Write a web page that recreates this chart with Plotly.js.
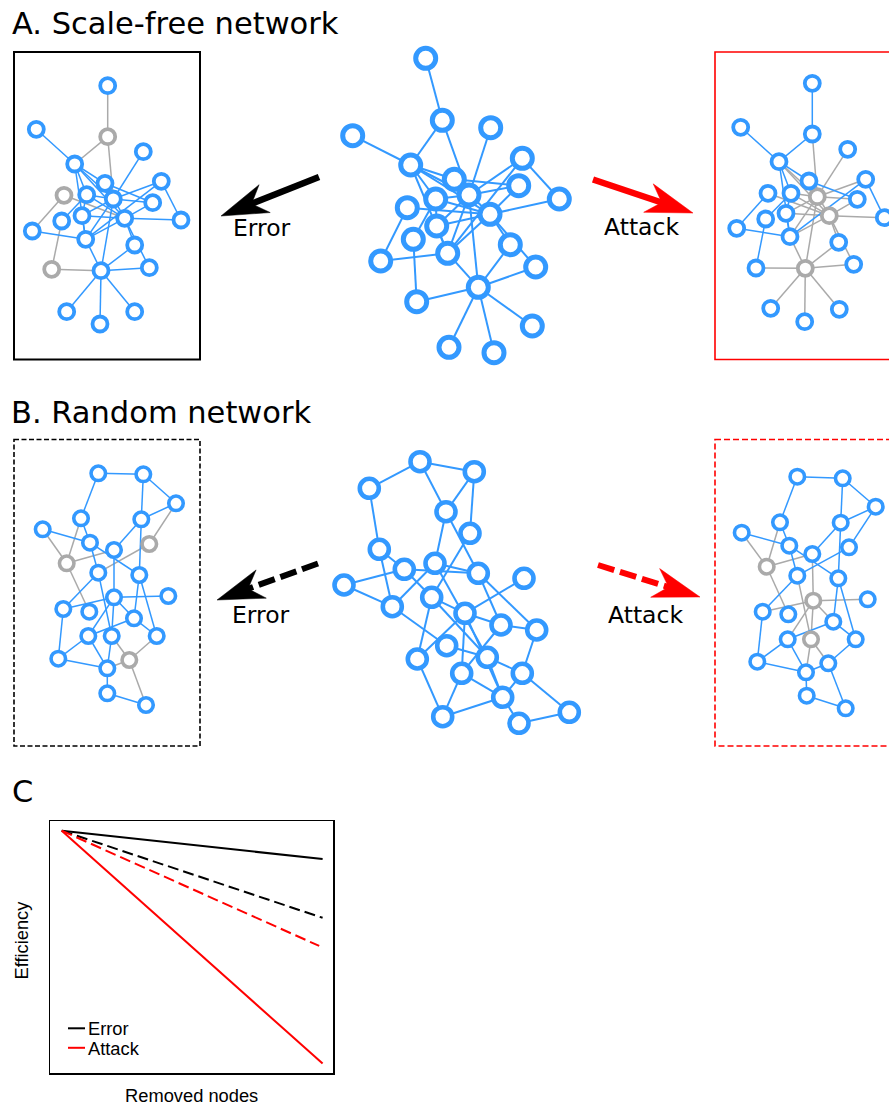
<!DOCTYPE html>
<html>
<head>
<meta charset="utf-8">
<script src="https://cdn.plot.ly/plotly-3.0.1.min.js"></script>
<style>
  html, body { margin: 0; padding: 0; background: #ffffff; }
  #fig { width: 889px; height: 1106px; }
</style>
</head>
<body>
<div id="fig"></div>
<script>
// ---------- Scale-free network (24 nodes, numbered from 1) ----------
const sfCenterX = [425.7, 442.3, 490.7, 352.7, 410.7, 522.3, 454.3, 518.7, 469.0, 435.7, 407.3, 559.3,
                   490.0, 436.7, 413.3, 510.3, 447.7, 380.7, 535.7, 478.3, 416.7, 532.3, 449.0, 494.0];
const sfCenterY = [58.3, 120.3, 127.7, 135.7, 165.0, 158.3, 179.3, 185.7, 195.0, 199.0, 207.7, 199.0,
                   214.3, 226.0, 239.3, 244.7, 253.3, 261.0, 267.0, 287.3, 301.7, 326.0, 347.3, 352.7];
const sfErrorX  = [107.7, 107.7, 143.3, 36.3, 74.7, 161.3, 105.0, 152.7, 113.3, 86.7, 64.0, 181.0,
                   124.7, 82.0, 61.7, 134.7, 85.7, 32.3, 149.3, 101.0, 51.7, 134.7, 66.7, 100.0];
const sfErrorY  = [85.7, 136.7, 151.7, 129.3, 164.0, 181.3, 183.3, 202.7, 199.0, 194.7, 195.3, 220.0,
                   218.3, 215.7, 221.0, 245.0, 239.3, 231.0, 267.7, 270.7, 269.3, 311.7, 311.7, 324.0];
const sfAttackX = [812.3, 812.3, 847.7, 740.7, 779.0, 865.7, 809.0, 857.3, 817.3, 791.0, 768.0, 884.3,
                   829.3, 786.0, 765.7, 838.7, 790.0, 736.7, 853.7, 805.3, 756.0, 839.3, 770.7, 804.7];
const sfAttackY = [83.3, 134.0, 149.3, 127.3, 161.7, 179.3, 181.0, 199.3, 196.7, 193.3, 193.3, 217.7,
                   215.7, 213.3, 219.0, 242.3, 236.7, 228.3, 264.3, 268.3, 268.0, 309.3, 308.3, 321.7];
const sfEdges = [[1,2],[2,5],[2,9],[4,5],[3,9],[5,7],[5,9],[5,10],[5,13],[5,17],[6,12],[6,9],[6,17],
                 [7,8],[7,9],[7,13],[8,9],[8,13],[9,10],[9,14],[9,17],[9,20],[10,13],[10,14],[11,18],
                 [11,13],[12,13],[13,14],[13,16],[13,19],[13,17],[14,17],[15,10],[15,21],[18,17],
                 [17,20],[21,20],[20,16],[20,19],[20,22],[20,23],[20,24]];
const sfErrorRemoved  = [2, 11, 21];
const sfAttackRemoved = [9, 13, 20];

// ---------- Random network (25 nodes, numbered from 1) ----------
const rnCenterX = [420.0, 474.3, 369.3, 446.0, 470.0, 379.3, 435.0, 404.3, 478.3, 524.0, 344.0, 431.7, 392.3,
                   465.0, 501.0, 536.7, 446.7, 417.3, 487.3, 461.7, 522.3, 502.7, 442.7, 519.0, 569.3];
const rnCenterY = [461.7, 471.7, 488.3, 511.7, 533.3, 549.3, 563.3, 569.3, 573.3, 578.3, 585.0, 597.3, 606.7,
                   613.3, 625.0, 630.0, 645.7, 659.0, 657.3, 673.3, 673.3, 697.3, 716.7, 723.3, 712.3];
const rnCenterEdges = [[1,3],[1,2],[1,4],[2,4],[2,5],[3,6],[4,7],[4,9],[5,12],[6,8],[6,13],[7,13],[7,9],
                       [7,19],[8,11],[8,9],[8,12],[9,15],[9,16],[10,14],[11,13],[12,14],[12,18],[12,19],
                       [13,17],[14,15],[14,20],[14,18],[14,22],[15,16],[15,20],[16,21],[17,19],[18,23],
                       [19,21],[19,22],[20,22],[20,23],[21,22],[21,25],[22,23],[22,24],[24,25]];
const rnErrorX  = [98.3, 143.3, 176.0, 81.0, 141.3, 42.7, 90.0, 149.3, 114.0, 66.7, 98.3, 139.3, 114.0,
                   168.3, 63.3, 89.3, 134.0, 88.3, 111.7, 156.7, 58.3, 129.3, 107.3, 107.3, 146.0];
const rnErrorY  = [473.3, 474.3, 503.3, 518.3, 519.3, 529.3, 542.7, 544.0, 550.0, 563.3, 572.7, 575.0, 597.3,
                   596.0, 609.0, 611.7, 618.3, 636.0, 636.0, 636.0, 658.7, 660.0, 668.3, 693.3, 705.0];
const rnAttackX = [797.3, 842.7, 875.7, 780.0, 840.7, 741.7, 789.3, 849.0, 812.3, 766.7, 797.3, 838.3, 813.3,
                   867.7, 762.7, 788.3, 833.3, 787.7, 811.0, 855.7, 757.3, 828.3, 806.0, 806.7, 845.7];
const rnAttackY = [476.7, 478.3, 506.7, 522.3, 522.7, 532.7, 545.7, 547.3, 554.0, 566.7, 575.7, 578.3, 600.7,
                   599.3, 611.7, 614.3, 621.7, 639.3, 639.3, 639.3, 661.7, 663.3, 672.3, 695.7, 708.3];
const rnSmallEdges = [[1,2],[1,4],[2,3],[2,5],[3,5],[3,8],[4,7],[4,10],[5,9],[5,12],[6,7],[6,10],[7,11],
                      [7,12],[8,11],[9,13],[10,9],[10,16],[11,15],[11,19],[12,17],[12,20],[13,14],[13,15],
                      [13,17],[13,19],[13,18],[15,21],[17,20],[17,18],[18,21],[18,23],[19,23],[19,22],
                      [20,22],[21,23],[22,23],[22,25],[23,24],[24,25]];
const rnErrorRemoved  = [8, 10, 22];
const rnAttackRemoved = [10, 13, 19];

// ---------- C: efficiency against removed nodes ----------
const removedNodes       = [0, 1];
const removedNodesRndAtk = [0, 0.987];
const effScaleFreeError  = [1, 0.883];
const effScaleFreeAttack = [1, 0.04];
const effRandomError     = [1, 0.641];
const effRandomAttack    = [1, 0.525];

const BLUE = '#3399ff';
const GRAY = '#aaaaaa';

// Builds edge and node traces for one drawing of a network; removed nodes and their links are greyed.
function networkTraces(xs, ys, edges, removed, style) {
  const off = i => removed.indexOf(i + 1) !== -1;
  const live = { x: [], y: [] }, dead = { x: [], y: [] };
  edges.forEach(([a, b]) => {
    const i = a - 1, j = b - 1;
    const t = (off(i) || off(j)) ? dead : live;
    t.x.push(xs[i], xs[j], null);
    t.y.push(ys[i], ys[j], null);
  });
  const liveN = { x: [], y: [] }, deadN = { x: [], y: [] };
  xs.forEach((x, i) => {
    const t = off(i) ? deadN : liveN;
    t.x.push(x); t.y.push(ys[i]);
  });
  const edgeTrace = (d, color) => ({
    type: 'scatter', mode: 'lines', x: d.x, y: d.y, xaxis: 'x', yaxis: 'y',
    line: { color: color, width: style.edge }, hoverinfo: 'skip', connectgaps: false
  });
  const nodeTrace = (d, color) => ({
    type: 'scatter', mode: 'markers', x: d.x, y: d.y, xaxis: 'x', yaxis: 'y',
    marker: { symbol: 'circle', size: style.size, color: '#ffffff', line: { color: color, width: style.ring } },
    hoverinfo: 'skip'
  });
  return [edgeTrace(dead, GRAY), edgeTrace(live, BLUE), nodeTrace(deadN, GRAY), nodeTrace(liveN, BLUE)];
}

const bigSF   = { size: 20, ring: 5, edge: 2 };
const bigRN   = { size: 19, ring: 4.6, edge: 2 };
const smallSF = { size: 15, ring: 3.8, edge: 1.5 };
const smallRN = { size: 14.5, ring: 3.6, edge: 1.5 };

let traces = [];
traces = traces.concat(networkTraces(sfCenterX, sfCenterY, sfEdges, [], bigSF));
traces = traces.concat(networkTraces(sfErrorX, sfErrorY, sfEdges, sfErrorRemoved, smallSF));
traces = traces.concat(networkTraces(sfAttackX, sfAttackY, sfEdges, sfAttackRemoved, smallSF));
traces = traces.concat(networkTraces(rnCenterX, rnCenterY, rnCenterEdges, [], bigRN));
traces = traces.concat(networkTraces(rnErrorX, rnErrorY, rnSmallEdges, rnErrorRemoved, smallRN));
traces = traces.concat(networkTraces(rnAttackX, rnAttackY, rnSmallEdges, rnAttackRemoved, smallRN));

const effLine = (x, y, color, dash, name) => ({
  type: 'scatter', mode: 'lines', x: x, y: y, xaxis: 'x2', yaxis: 'y2', name: name,
  line: { color: color, width: 2, dash: dash }, hoverinfo: 'skip'
});
traces.push(effLine(removedNodes, effScaleFreeError, '#000000', 'solid', 'Error'));
traces.push(effLine(removedNodes, effRandomError, '#000000', '11px,5px', 'Error (random)'));
traces.push(effLine(removedNodesRndAtk, effRandomAttack, '#ff0000', '11px,5px', 'Attack (random)'));
traces.push(effLine(removedNodes, effScaleFreeAttack, '#ff0000', 'solid', 'Attack'));

// Arrow from start to tip: a shaft and a swept-back (stealth) head.
function arrowShapes(start, tip, color, width, dash) {
  const head = 47, half = 15, notch = 33;
  const dx = tip[0] - start[0], dy = tip[1] - start[1];
  const len = Math.hypot(dx, dy);
  const ux = dx / len, uy = dy / len, px = -uy, py = ux;
  const bx = tip[0] - head * ux, by = tip[1] - head * uy;
  const nx = tip[0] - notch * ux, ny = tip[1] - notch * uy;
  const sx = tip[0] - (notch - 3) * ux, sy = tip[1] - (notch - 3) * uy;
  return [
    { type: 'line', xref: 'x', yref: 'y', x0: start[0], y0: start[1], x1: sx, y1: sy,
      line: { color: color, width: width, dash: dash } },
    { type: 'path', xref: 'x', yref: 'y',
      path: `M${tip[0]},${tip[1]} L${bx + half * px},${by + half * py} L${nx},${ny} ` +
            `L${bx - half * px},${by - half * py} Z`,
      fillcolor: color, line: { color: color, width: 0.5 } }
  ];
}

const boxLine = (x0, y0, x1, y1, color, width, dash) => ({
  type: 'rect', xref: 'x', yref: 'y', x0: x0, y0: y0, x1: x1, y1: y1,
  line: { color: color, width: width, dash: dash }, fillcolor: 'rgba(0,0,0,0)'
});

let shapes = [
  boxLine(14, 52, 200, 359.5, '#000000', 2, 'solid'),
  boxLine(715, 52, 895, 359.5, '#ff0000', 1.6, 'solid'),
  boxLine(14, 439.5, 200, 746, '#000000', 1.6, '5px,2.5px'),
  boxLine(715, 439.5, 895, 746, '#ff0000', 1.6, '6px,3px'),
  { type: 'line', xref: 'x', yref: 'y', x0: 68, y0: 1028.3, x1: 85, y1: 1028.3, line: { color: '#000000', width: 2 } },
  { type: 'line', xref: 'x', yref: 'y', x0: 68, y0: 1047.8, x1: 85, y1: 1047.8, line: { color: '#ff0000', width: 2 } }
];
shapes = shapes.concat(arrowShapes([319, 177], [221, 216], '#000000', 6.5, 'solid'));
shapes = shapes.concat(arrowShapes([593, 179.5], [693, 213], '#ff0000', 6.5, 'solid'));
shapes = shapes.concat(arrowShapes([318, 563.5], [217, 600], '#000000', 6, '17px,6px'));
shapes = shapes.concat(arrowShapes([598, 565], [700, 597], '#ff0000', 6, '17px,6px'));

const dv = (size) => ({ family: 'DejaVu Sans', size: size, color: '#000000' });
const ls = (size) => ({ family: 'Liberation Sans', size: size, color: '#000000' });
const label = (text, x, y, font, anchor, angle) => ({
  text: text, x: x, y: y, xref: 'x', yref: 'y', showarrow: false,
  xanchor: anchor || 'center', yanchor: 'middle', font: font, borderpad: 0, textangle: angle || 0
});

const annotations = [
  label('A. Scale-free network', 11, 23.5, dv(30.5), 'left'),
  label('B. Random network', 10, 412, dv(30.5), 'left'),
  label('C', 11, 791, dv(30.5), 'left'),
  label('Error', 262, 228, dv(23.5)),
  label('Attack', 641, 226.5, dv(23.5)),
  label('Error', 261, 615, dv(23.5)),
  label('Attack', 645, 615, dv(23.5)),
  label('Error', 87, 1028.8, ls(18.3), 'left'),
  label('Attack', 87, 1048, ls(18.3), 'left'),
  label('Efficiency', 21, 940.5, ls(18.3), 'center', -90)
];

const layout = {
  width: 889, height: 1106,
  margin: { l: 0, r: 0, t: 0, b: 0 },
  paper_bgcolor: '#ffffff', plot_bgcolor: 'rgba(0,0,0,0)',
  showlegend: false,
  xaxis: { domain: [0, 1], range: [0, 889], visible: false, fixedrange: true },
  yaxis: { domain: [0, 1], range: [1106, 0], visible: false, fixedrange: true },
  xaxis2: {
    domain: [50 / 889, 333.3 / 889], anchor: 'y2', range: [-0.045, 1.041],
    showline: true, mirror: true, linecolor: '#000000', linewidth: 1.5,
    showgrid: false, zeroline: false, showticklabels: false, ticks: '',
    title: { text: 'Removed nodes', font: ls(18.3), standoff: 15 }
  },
  yaxis2: {
    domain: [1 - 1073.3 / 1106, 1 - 821 / 1106], anchor: 'x2', range: [0, 1.04],
    showline: true, mirror: true, linecolor: '#000000', linewidth: 1.5,
    showgrid: false, zeroline: false, showticklabels: false, ticks: ''
  },
  shapes: shapes,
  annotations: annotations
};

Plotly.newPlot('fig', traces, layout, { staticPlot: true, displayModeBar: false });
</script>
</body>
</html>
